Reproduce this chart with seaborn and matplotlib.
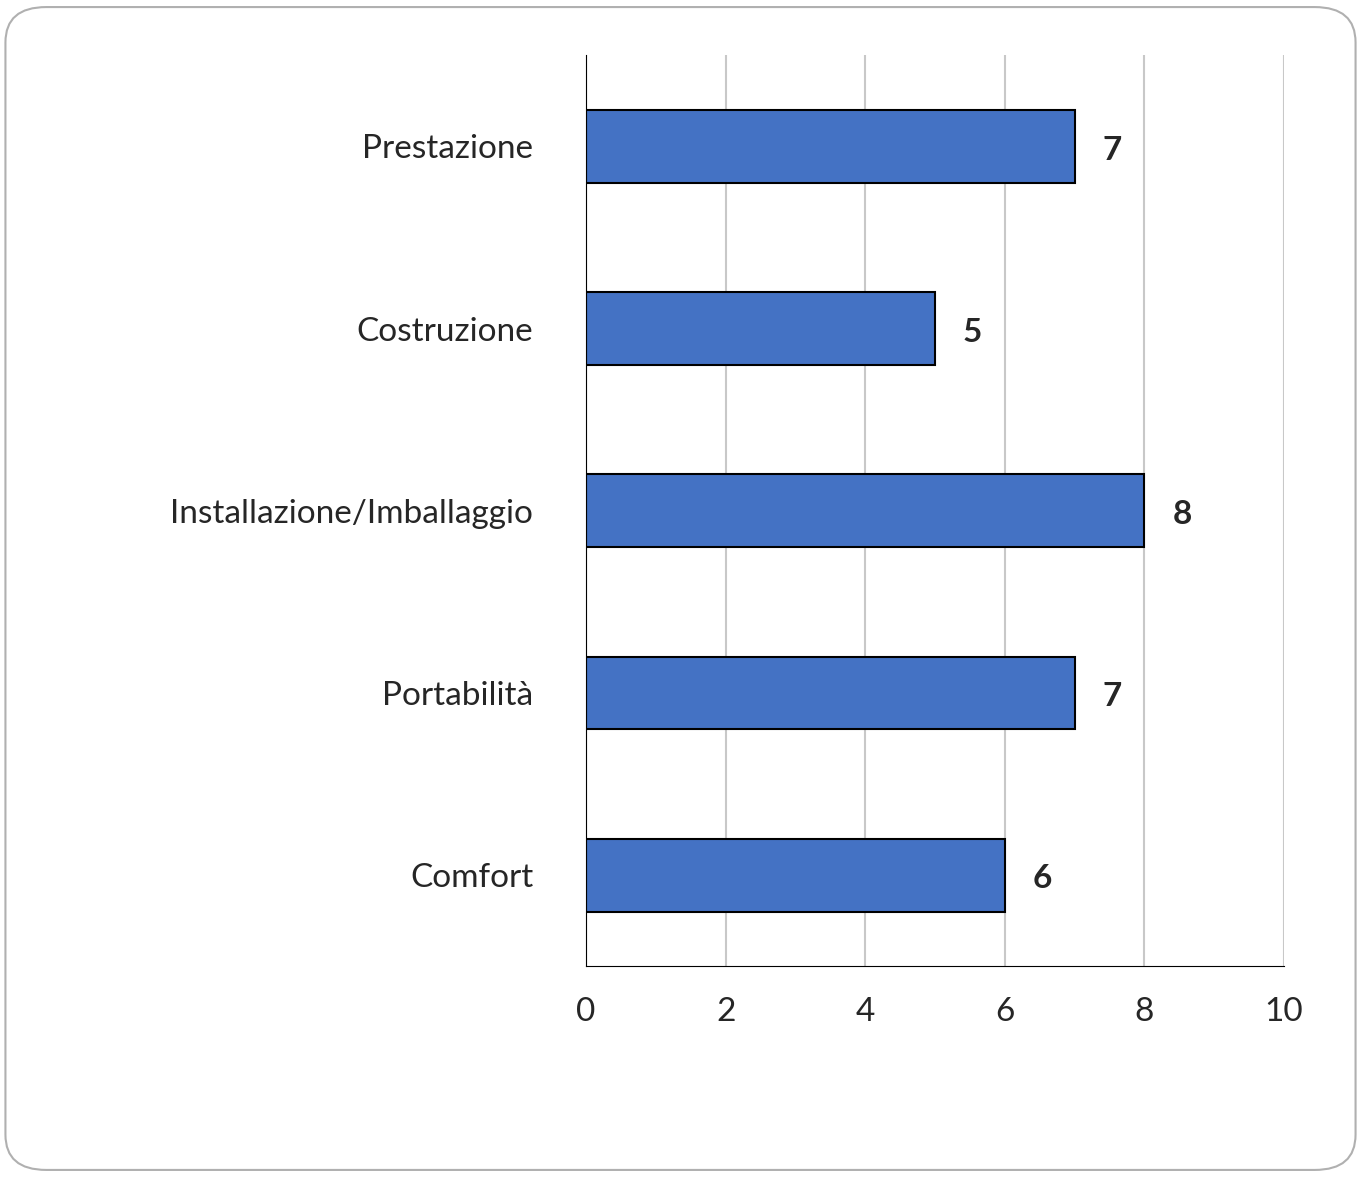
import pandas as pd
import matplotlib.pyplot as plt
import seaborn as sns
from matplotlib.patches import FancyBboxPatch


# Chart data
categories = ["Prestazione", "Costruzione", "Installazione/Imballaggio", "Portabilità", "Comfort"]
scores = [7, 5, 8, 7, 6]
x_ticks = [0, 2, 4, 6, 8, 10]

df = pd.DataFrame({"Categoria": categories, "Punteggio": scores})


# Horizontal bar chart of scores
def score_bars():
    sns.set_style("white")
    plt.rcParams['font.family'] = ['Lato', 'DejaVu Sans']
    fig = plt.figure(figsize=(13.61, 11.77), dpi=100)
    fig.patches.append(FancyBboxPatch((0.004, 0.006), 0.992, 0.988,
                                      boxstyle="round,pad=0,rounding_size=0.03",
                                      transform=fig.transFigure, facecolor="white",
                                      edgecolor="#b0b0b0", linewidth=1.5, zorder=-10))
    ax = fig.add_axes([0.4306, 0.179, 0.5128, 0.774])
    ax.set_zorder(5)
    ax.set_facecolor("none")
    sns.barplot(x="Punteggio", y="Categoria", data=df, color="#4472C4",
                edgecolor="black", linewidth=1.5, width=0.4, saturation=1, ax=ax)
    for i, v in enumerate(scores):
        ax.text(v + 0.4, i + 0.02, str(v), va="center", ha="left",
                fontsize=24, fontweight="bold")
    ax.set_xlim(0, 10)
    ax.set_xticks(x_ticks)
    ax.set_xlabel("")
    ax.set_ylabel("")
    ax.grid(axis="x", color="#c8c8c8", linewidth=1.5)
    ax.set_axisbelow(True)
    for s in ["top", "right"]:
        ax.spines[s].set_visible(False)
    ax.spines["left"].set_color("black")
    ax.spines["bottom"].set_color("black")
    ax.tick_params(axis="x", labelsize=24, pad=22, length=0)
    ax.tick_params(axis="y", labelsize=24, pad=38, length=0)
    fig.savefig("out.png", dpi=100)


if __name__ == "__main__":
    score_bars()
